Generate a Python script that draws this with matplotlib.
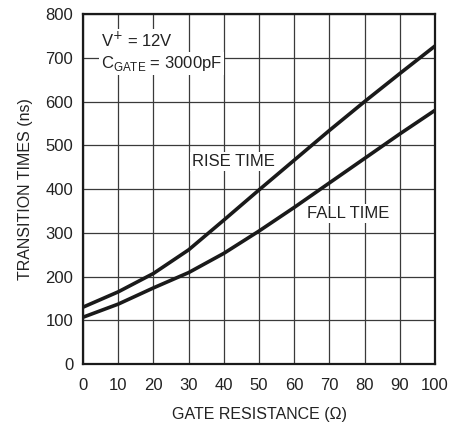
import matplotlib
matplotlib.use("Agg")
import matplotlib.pyplot as plt
from matplotlib import font_manager

names = {f.name for f in font_manager.fontManager.ttflist}
fam = "Liberation Sans Narrow" if "Liberation Sans Narrow" in names else "Liberation Sans"
plt.rcParams['font.family'] = [fam, 'DejaVu Sans']

gate_res = [0, 10, 20, 30, 40, 50, 60, 70, 80, 90, 100]
rise_time = [130, 165, 207, 261, 329, 398, 466, 534, 600, 664, 727]
fall_time = [107, 137, 174, 209, 253, 304, 358, 414, 470, 526, 580]
x_ticks = [0, 10, 20, 30, 40, 50, 60, 70, 80, 90, 100]
y_ticks = [0, 100, 200, 300, 400, 500, 600, 700, 800]

fig = plt.figure(figsize=(4.64, 4.26), dpi=100)
ax = fig.add_axes([0.179, 0.1455, 0.7585, 0.8215])

ax.plot(gate_res, rise_time, color='#1a1a1a', lw=2.6, solid_joinstyle='round', zorder=3)
ax.plot(gate_res, fall_time, color='#1a1a1a', lw=2.6, solid_joinstyle='round', zorder=3)

ax.set_xlim(0, 100)
ax.set_ylim(0, 800)
ax.set_xticks(x_ticks)
ax.set_yticks(y_ticks)
ax.grid(True, color='#3a3a3a', lw=0.9)
ax.set_axisbelow(True)
ax.tick_params(length=0, labelsize=12, colors='#222222')
ax.tick_params(axis='x', pad=10)
ax.tick_params(axis='y', pad=7)
for s in ax.spines.values():
    s.set_linewidth(1.6)
    s.set_color('#1a1a1a')

ax.set_xlabel('GATE RESISTANCE (Ω)', fontsize=11.5, color='#222222', labelpad=10)
ax.set_ylabel('TRANSITION TIMES (ns)', fontsize=11.5, color='#222222', labelpad=9)

bbox = dict(facecolor='white', edgecolor='none', pad=1.5)
ax.text(5.0, 740, 'V$^{+}$ = 12V', fontsize=12, color='#222222', ha='left', va='center',
        bbox=bbox, zorder=4)
ax.text(5.0, 688, 'C$_{\\mathregular{GATE}}$ = 3000pF', fontsize=12, color='#222222', ha='left',
        va='center', bbox=bbox, zorder=4)
ax.text(31, 462, 'RISE TIME', fontsize=12, color='#222222', ha='left', va='center',
        bbox=bbox, zorder=4)
ax.text(63.5, 343, 'FALL TIME', fontsize=12, color='#222222', ha='left', va='center',
        bbox=bbox, zorder=4)

fig.savefig('out.png', dpi=100)
